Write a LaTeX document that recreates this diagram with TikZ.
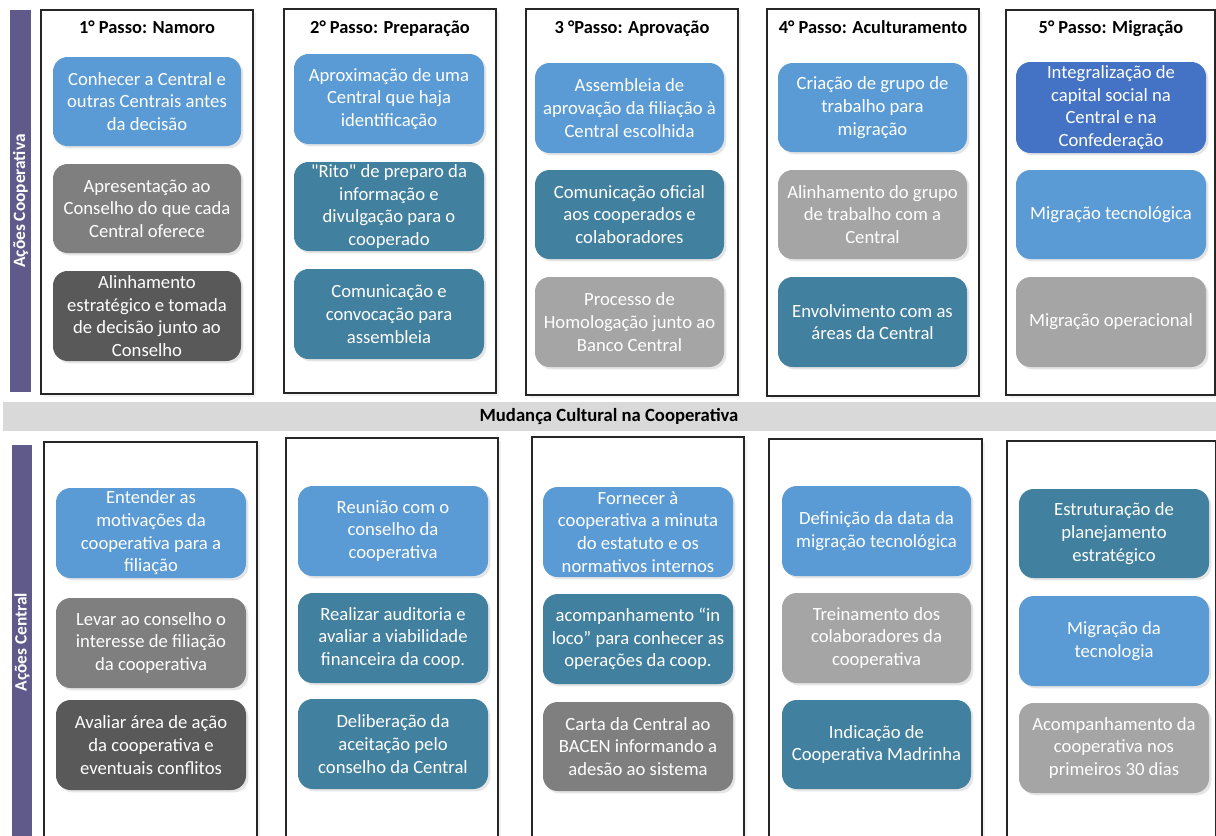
\documentclass[tikz,border=0pt]{standalone}
\usepackage{fontspec}
\setmainfont{Carlito}[Ligatures=TeXOff]
\usetikzlibrary{shadows}
\definecolor{cblue}{HTML}{5B9BD5}
\definecolor{croyal}{HTML}{4472C4}
\definecolor{cteal}{HTML}{41809E}
\definecolor{cgrayA}{HTML}{A5A5A5}
\definecolor{cgrayB}{HTML}{7F7F7F}
\definecolor{cgrayC}{HTML}{595959}
\definecolor{cband}{HTML}{D9D9D9}
\definecolor{cpurple}{HTML}{5F5A8A}
\tikzset{
  card/.style={rounded corners=11pt, inner sep=0pt, align=center, text=white,
    font=\fontsize{14}{17}\selectfont,
    drop shadow={shadow xshift=1.8pt, shadow yshift=-1.8pt, fill=black, opacity=0.10}},
  frame/.style={draw=black!85, line width=0.8pt, fill=white, inner sep=0pt,
    drop shadow={shadow xshift=2pt, shadow yshift=-2pt, fill=black, opacity=0.05}},
  head/.style={font=\fontsize{13.8}{16}\selectfont\bfseries, text=black, inner sep=0pt, anchor=base},
  sidebar/.style={fill=cpurple, inner sep=0pt},
  sidelabel/.style={font=\fontsize{13}{15}\selectfont\bfseries, text=white, rotate=90, inner sep=0pt},
}
\newcommand\card[7]{%
  \node[card, fill=#6, minimum width={(#4-#2)*0.75pt}, minimum height={(#5-#3)*0.75pt}]
    (#1) at ({(#2+#4)/2},{(#3+#5)/2}) {#7};}
\newcommand\frm[5]{%
  \node[frame, minimum width={(#4-#2)*0.75pt}, minimum height={(#5-#3)*0.75pt}]
    (#1) at ({(#2+#4)/2},{(#3+#5)/2}) {};}
\begin{document}
\begin{tikzpicture}[x=0.75pt, y=-0.75pt]
\clip (0,0) rectangle (1216,835);
\fill[white] (0,0) rectangle (1216,835);

% side bars
\node[sidebar, minimum width={21*0.75pt}, minimum height={382*0.75pt}] (barTop) at (20.5,201) {};
\node[sidelabel] (labTop) at (barTop.center) {Ações Cooperativa};
\node[sidebar, minimum width={20*0.75pt}, minimum height={400*0.75pt}] (barBot) at (22,645) {};
\node[sidelabel] (labBot) at (22,642) {Ações Central};

% top frames
\frm{ft1}{41}{10}{253}{394}
\frm{ft2}{284}{9}{496}{393}
\frm{ft3}{526}{9}{738}{395}
\frm{ft4}{767}{9}{979}{396}
\frm{ft5}{1006}{10}{1215}{395}

% headers
\node[head] (h1) at (147,33) {1° Passo: Namoro};
\node[head] (h2) at (390,33) {2° Passo: Preparação};
\node[head] (h3) at (632,33) {3 °Passo: Aprovação};
\node[head] (h4) at (873,33) {4° Passo: Aculturamento};
\node[head] (h5) at (1111,33) {5° Passo: Migração};

% top cards
\card{a11}{53}{57}{241}{146}{cblue}{Conhecer a Central e\\outras Centrais antes\\da decisão}
\card{a12}{53}{164}{241}{253}{cgrayB}{Apresentação ao\\Conselho do que cada\\Central oferece}
\card{a13}{53}{271}{241}{361}{cgrayC}{Alinhamento\\estratégico e tomada\\de decisão junto ao\\Conselho}

\card{a21}{294}{54}{484}{144}{cblue}{Aproximação de uma\\Central que haja\\identificação}
\card{a22}{294}{162}{484}{251}{cteal}{"Rito" de preparo da\\informação e\\divulgação para o\\cooperado}
\card{a23}{294}{269}{484}{359}{cteal}{Comunicação e\\convocação para\\assembleia}

\card{a31}{535}{63}{724}{153}{cblue}{Assembleia de\\aprovação da filiação à\\Central escolhida}
\card{a32}{535}{170}{724}{259}{cteal}{Comunicação oficial\\aos cooperados e\\colaboradores}
\card{a33}{535}{277}{724}{367}{cgrayA}{Processo de\\Homologação junto ao\\Banco Central}

\card{a41}{778}{63}{967}{152}{cblue}{Criação de grupo de\\trabalho para\\migração}
\card{a42}{778}{170}{967}{259}{cgrayA}{Alinhamento do grupo\\de trabalho com a\\Central}
\card{a43}{778}{277}{967}{367}{cteal}{Envolvimento com as\\áreas da Central}

\card{a51}{1016}{62}{1206}{153}{croyal}{Integralização de\\capital social na\\Central e na\\Confederação}
\card{a52}{1016}{170}{1206}{259}{cblue}{Migração tecnológica}
\card{a53}{1016}{277}{1206}{367}{cgrayA}{Migração operacional}

% band
\node[fill=cband, inner sep=0pt, minimum width={1213*0.75pt}, minimum height={29*0.75pt}] (band) at (609.5,416.5) {};
\node[head, font=\fontsize{14}{16}\selectfont\bfseries] (bandtext) at (609,421.5) {Mudança Cultural na Cooperativa};

% bottom frames
\frm{fb1}{44}{442}{257}{845}
\frm{fb2}{286}{438}{498}{845}
\frm{fb3}{532}{437}{744}{845}
\frm{fb4}{769}{439}{982}{845}
\frm{fb5}{1007}{441}{1216}{845}

% bottom cards
\card{b11}{56}{488}{246}{578}{cblue}{Entender as\\motivações da\\cooperativa para a\\filiação}
\card{b12}{56}{598}{246}{688}{cgrayB}{Levar ao conselho o\\interesse de filiação\\da cooperativa}
\card{b13}{56}{700}{246}{790}{cgrayC}{Avaliar área de ação\\da cooperativa e\\eventuais conflitos}

\card{b21}{298}{486}{488}{576}{cblue}{Reunião com o\\conselho da\\cooperativa}
\card{b22}{298}{593}{488}{683}{cteal}{Realizar auditoria e\\avaliar a viabilidade\\financeira da coop.}
\card{b23}{298}{699}{488}{789}{cteal}{Deliberação da\\aceitação pelo\\conselho da Central}

\card{b31}{543}{487}{733}{577}{cblue}{Fornecer à\\cooperativa a minuta\\do estatuto e os\\normativos internos}
\card{b32}{543}{594}{733}{684}{cteal}{acompanhamento “in\\loco” para conhecer as\\operações da coop.}
\card{b33}{543}{702}{733}{791}{cgrayB}{Carta da Central ao\\BACEN informando a\\adesão ao sistema}

\card{b41}{782}{486}{971}{576}{cblue}{Definição da data da\\migração tecnológica}
\card{b42}{782}{593}{971}{683}{cgrayA}{Treinamento dos\\colaboradores da\\cooperativa}
\card{b43}{782}{700}{971}{789}{cteal}{Indicação de\\Cooperativa Madrinha}

\card{b51}{1019}{489}{1209}{578}{cteal}{Estruturação de\\planejamento\\estratégico}
\card{b52}{1019}{596}{1209}{686}{cblue}{Migração da\\tecnologia}
\card{b53}{1019}{703}{1209}{793}{cgrayA}{Acompanhamento da\\cooperativa nos\\primeiros 30 dias}
\end{tikzpicture}
\end{document}
